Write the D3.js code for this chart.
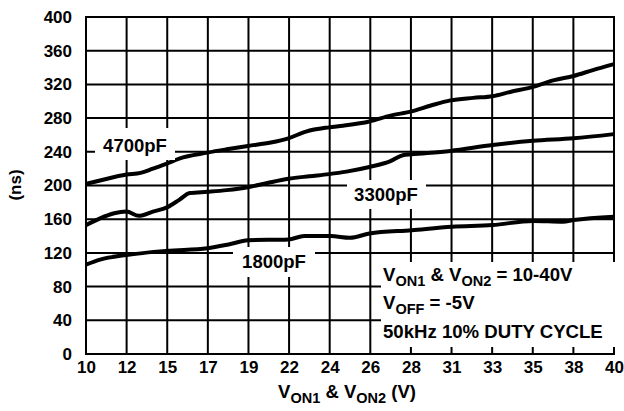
<!DOCTYPE html>
<html>
<head>
<meta charset="utf-8">
<script src="https://cdn.jsdelivr.net/npm/d3@7/dist/d3.min.js"></script>
<style>
  body { margin: 0; background: #fff; }
  svg text { font-family: "Liberation Sans", Arial, Helvetica, sans-serif; font-weight: bold; fill: #000; }
</style>
</head>
<body>
<svg id="chart" width="624" height="411"></svg>
<script>
// Tick labels (x axis is linear 10..40 split in 13 equal steps, labels are rounded)
var xTickLabels = ["10", "12", "15", "17", "19", "22", "24", "26", "28", "31", "33", "35", "38", "40"];
var yTickValues = [0, 40, 80, 120, 160, 200, 240, 280, 320, 360, 400];

// 4700pF curve
var volts4700 = [10, 10.8, 12.3, 13.1, 13.8, 14.6, 15.3, 16.9, 18.0, 19.2, 20.5, 21.5, 22.5, 23.8, 24.6, 26.1, 27.3, 28.5, 29.6, 30.7, 32.0, 33.1, 34.1, 35.4, 36.6, 37.7, 38.8, 40];
var ns4700 = [202, 206, 213, 215, 220, 226, 232, 239, 243, 247, 251, 256, 264, 269, 271, 276, 283, 288, 295, 301, 304, 306, 311, 317, 325, 330, 337, 344];

// 3300pF curve
var volts3300 = [10, 10.8, 11.6, 12.3, 13.0, 13.8, 14.6, 15.3, 15.9, 16.9, 18.0, 19.2, 20.3, 21.5, 22.7, 23.8, 24.8, 26.1, 27.3, 28.0, 28.5, 30.7, 33.1, 35.4, 37.7, 40];
var ns3300 = [153, 161, 167, 169, 164, 169, 174, 183, 191, 192.5, 194.5, 198, 203, 208, 211, 213.5, 216.5, 222, 229, 236, 237, 241, 248, 253, 256, 261];

// 1800pF curve
var volts1800 = [10, 10.8, 12.3, 14.6, 16.9, 18.1, 19.2, 21.5, 22.4, 23.9, 25.0, 26.1, 28.5, 30.8, 33.1, 35.4, 37.1, 37.7, 40];
var ns1800 = [106, 112, 117.5, 122.5, 125.5, 130, 135, 136, 140, 140, 138, 143, 147, 151, 153, 158, 157, 159, 163];

var svg = d3.select("#chart");
var margin = { top: 17, right: 10, bottom: 57, left: 86 };
var width = 624 - margin.left - margin.right;
var height = 411 - margin.top - margin.bottom;

var g = svg.append("g").attr("transform", "translate(" + margin.left + "," + margin.top + ")");

var xScale = d3.scaleLinear().domain([10, 40]).range([0, width]);
var yScale = d3.scaleLinear().domain([0, 400]).range([height, 0]);

// tick positions: index -> volts
var tickIndex = d3.scaleLinear().domain([0, xTickLabels.length - 1]).range([10, 40]);
var xTickValues = xTickLabels.map(function(d, i) { return tickIndex(i); });

// grid
g.selectAll(".vgrid").data(xTickValues).enter().append("line")
  .attr("x1", d => xScale(d)).attr("x2", d => xScale(d))
  .attr("y1", 0).attr("y2", height)
  .attr("stroke", "#000").attr("stroke-width", 2);
g.selectAll(".hgrid").data(yTickValues).enter().append("line")
  .attr("x1", 0).attr("x2", width)
  .attr("y1", d => yScale(d)).attr("y2", d => yScale(d))
  .attr("stroke", "#000").attr("stroke-width", 2);

// axes (labels only)
var yAxis = g.append("g").call(d3.axisLeft(yScale).tickValues(yTickValues).tickSize(0).tickPadding(14));
yAxis.select(".domain").remove();
yAxis.selectAll("text").attr("font-size", 17).attr("font-family", null);

var xAxis = g.append("g").attr("transform", "translate(0," + height + ")")
  .call(d3.axisBottom(xScale).tickValues(xTickValues).tickFormat((d, i) => xTickLabels[i]).tickSize(0).tickPadding(7));
xAxis.select(".domain").remove();
xAxis.selectAll("text").attr("font-size", 17).attr("font-family", null);

// white label boxes over the grid
var boxes = [
  { x: 95, y: 128, w: 80, h: 32 },
  { x: 347, y: 180, w: 79, h: 29 },
  { x: 233, y: 247, w: 82, h: 30 },
  { x: 381, y: 262, w: 236, h: 85 }
];
svg.selectAll(".box").data(boxes).enter().append("rect")
  .attr("x", d => d.x).attr("y", d => d.y).attr("width", d => d.w).attr("height", d => d.h)
  .attr("fill", "#fff");

// curves
var line = d3.line()
  .x(d => xScale(d[0]))
  .y(d => yScale(d[1]))
  .curve(d3.curveMonotoneX);

[[volts4700, ns4700], [volts3300, ns3300], [volts1800, ns1800]].forEach(function(s) {
  g.append("path")
    .datum(d3.zip(s[0], s[1]))
    .attr("fill", "none")
    .attr("stroke", "#000")
    .attr("stroke-width", 4)
    .attr("stroke-linejoin", "round")
    .attr("d", line);
});

// series labels
svg.append("text").attr("x", 135).attr("y", 152).attr("text-anchor", "middle").attr("font-size", 18.5).text("4700pF");
svg.append("text").attr("x", 386).attr("y", 201).attr("text-anchor", "middle").attr("font-size", 18.5).text("3300pF");
svg.append("text").attr("x", 274).attr("y", 268).attr("text-anchor", "middle").attr("font-size", 18.5).text("1800pF");

// text with subscripts
function subText(x, y, parts, size, subSize, anchor) {
  var t = svg.append("text").attr("x", x).attr("y", y).attr("font-size", size);
  if (anchor) t.attr("text-anchor", anchor);
  var shift = 0;
  parts.forEach(function(p) {
    var isSub = p[1];
    var dy = (isSub ? 5 : 0) - shift;
    shift = isSub ? 5 : 0;
    t.append("tspan").attr("dy", dy).attr("font-size", isSub ? subSize : size).text(p[0]);
  });
  return t;
}

// conditions box
subText(383, 281, [["V", 0], ["ON1", 1], [" & V", 0], ["ON2", 1], [" = 10-40V", 0]], 18.6, 14.5);
subText(383, 309, [["V", 0], ["OFF", 1], [" = -5V", 0]], 18.6, 14.5);
svg.append("text").attr("x", 383).attr("y", 338).attr("font-size", 18.6).text("50kHz 10% DUTY CYCLE");

// axis titles
subText(347, 398, [["V", 0], ["ON1", 1], [" & V", 0], ["ON2", 1], [" (V)", 0]], 18.5, 14.5, "middle");
svg.append("text")
  .attr("transform", "translate(21,185) rotate(-90)")
  .attr("text-anchor", "middle")
  .attr("font-size", 17)
  .text("(ns)");

// plot border
g.append("rect").attr("width", width).attr("height", height)
  .attr("fill", "none").attr("stroke", "#000").attr("stroke-width", 2);
// re-cover the border inside the conditions box
svg.append("rect").attr("x", 612).attr("y", 262).attr("width", 4).attr("height", 85).attr("fill", "#fff");
</script>
</body>
</html>
